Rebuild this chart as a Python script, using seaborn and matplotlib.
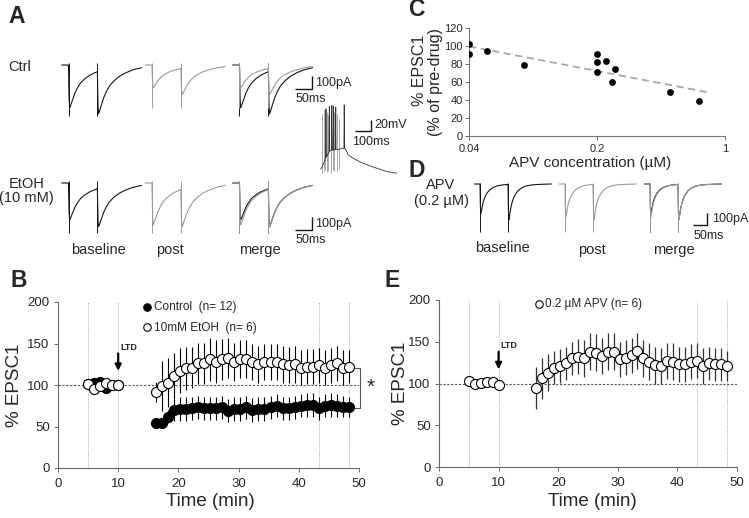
import numpy as np
import pandas as pd
import matplotlib
matplotlib.use("Agg")
import matplotlib.pyplot as plt
import seaborn as sns

# ---------------- data ----------------
# Panel B (% EPSC1 over time)
base_time = [5, 6, 7, 8, 9, 10]
post_time = [16.3, 17.3, 18.3, 19.3, 20.3, 21.3, 22.3, 23.3, 24.3, 25.3, 26.3,
             27.3, 28.3, 29.3, 30.3, 31.3, 32.3, 33.3, 34.3, 35.3, 36.3, 37.3,
             38.3, 39.3, 40.3, 41.3, 42.3, 43.3, 44.3, 45.3, 46.3, 47.3, 48.3]
ctrl_base = [101, 102, 104, 96, 100, 100]
ctrl_post = [54, 54, 62, 70, 71, 71, 72, 73, 72, 72, 72, 73, 69, 71, 71, 73, 70,
             71, 71, 73, 75, 72, 72, 73, 75, 76, 76, 72, 75, 76, 75, 74, 73]
ctrl_err = [6, 6, 8, 13, 14, 14, 14, 14, 14, 14, 14, 14, 14, 14, 14, 14, 14,
            14, 14, 14, 14, 14, 14, 14, 14, 14, 14, 14, 14, 14, 14, 13, 12]
etoh_base = [101, 95, 99, 103, 100, 100]
etoh_post = [92, 99, 103, 111, 117, 120, 121, 126, 126, 131, 128, 131, 133, 128,
             131, 131, 128, 125, 128, 128, 128, 125, 124, 125, 121, 122, 122,
             124, 121, 124, 126, 121, 122]
etoh_err = [12, 30, 30, 28, 27, 26, 25, 25, 25, 26, 26, 25, 24, 23, 23, 23, 22,
            22, 22, 22, 22, 22, 22, 22, 21, 21, 21, 21, 21, 21, 21, 21, 20]
# Panel E
apv_base = [103, 99, 101, 102, 102, 98]
apv_post = [95, 106, 113, 119, 121, 124, 130, 132, 130, 138, 137, 133, 138, 138,
            129, 131, 134, 139, 130, 126, 122, 121, 127, 126, 123, 123, 126, 127,
            121, 124, 123, 123, 121]
apv_err = [25, 24, 22, 20, 20, 20, 20, 21, 22, 22, 22, 22, 22, 22, 21, 21, 21,
           22, 22, 22, 22, 22, 22, 22, 21, 21, 21, 21, 21, 20, 20, 20, 18]
ref_lines = [5, 10, 43.3, 48.3]

# Panel C (dose response)
apv_conc = [0.04, 0.04, 0.05, 0.08, 0.2, 0.2, 0.2, 0.225, 0.24, 0.25, 0.5, 0.72]
apv_resp = [102.6, 91, 94.8, 78.4, 91, 82, 71.4, 83.6, 59.5, 74.7, 48.7, 39]
fit_conc = [0.04, 0.8]
fit_resp = [99.6, 48.7]

# Panel A / D example traces (template EPSC shape)
epsc_t = [0, 1.5, 3, 5, 8, 12, 18, 25, 35, 48, 62, 80, 100, 125, 155, 190, 230]
shape_A = [0, -0.75, -1.0, -0.97, -0.9, -0.8, -0.67, -0.55, -0.42, -0.32, -0.24,
           -0.17, -0.11, -0.065, -0.03, -0.012, 0]
shape_D = [0, -0.8, -1.0, -0.9, -0.75, -0.58, -0.42, -0.3, -0.19, -0.11, -0.06,
           -0.03, -0.015, -0.006, 0, 0, 0]
ctrl_base_peaks = [330, 377]
ctrl_post_peaks = [177, 230]
etoh_base_peaks = [285, 338]
etoh_post_peaks = [323, 338]
apvD_base_peaks = [250, 300]
apvD_post_peaks = [277, 300]

# action potential trace (ms, mV)
ap_t = [0, 14, 31, 33, 35, 52, 54, 56, 67, 69, 71, 77, 79, 81, 92, 94, 96, 110,
        131, 145, 147, 150, 158, 172.5, 204, 256, 329, 412, 475]
ap_v = [-70, -62, -50, 40, -48, -39, 44, -37, -35, 46, -35, -35, 45, -35, -34,
        43, -34, -34, -32, -32, 47, -32, -35, -44, -50, -58, -66, -74, -77]
ap_art_t = [6, 20, 28, 42, 48, 62, 74, 86, 100, 115]
ap_art_lo = [-76, -74, -72, -75, -73, -76, -72, -74, -73, -70]
ap_art_hi = [30, 38, 20, 35, 28, 36, 25, 34, 30, 22]

# ---------------- style ----------------
sns.set_theme(style="ticks")
plt.rcParams["font.family"] = ["Liberation Sans", "DejaVu Sans"]
plt.rcParams["axes.linewidth"] = 0.8

W, H = 749, 518
fig = plt.figure(figsize=(W / 100, H / 100), dpi=100)
fig.patch.set_facecolor("white")


def rect(l, t, r, b):
    return [l / W, 1 - b / H, (r - l) / W, (b - t) / H]


def ftext(x, y, s, **kw):
    kw.setdefault("va", "center")
    kw.setdefault("ha", "left")
    fig.text(x / W, 1 - y / H, s, **kw)


BLACK = "#151515"
GRAY = "#9a9a9a"


def epsc_pair(t, peaks, isi, shape):
    s1 = np.interp(t, epsc_t, shape, left=0, right=0)
    s2 = np.interp(t - isi, epsc_t, shape, left=0, right=0)
    resid = peaks[0] * np.interp(isi + 3, epsc_t, shape)
    a2 = peaks[1] + resid
    return peaks[0] * s1 + a2 * s2


def trace_axes(stim_px, base_px, ppm, ppa, t0=-25, t1=270, i0=-470, i1=40):
    ax = fig.add_axes(rect(stim_px + t0 * ppm, base_px - i1 * ppa,
                           stim_px + t1 * ppm, base_px - i0 * ppa))
    ax.set_xlim(t0, t1)
    ax.set_ylim(i0, i1)
    ax.set_axis_off()
    return ax


def draw_trace(ax, peaks, isi, shape, color, art, tmax):
    t = np.linspace(-20, tmax, 700)
    cur = epsc_pair(t, peaks, isi, shape)
    sns.lineplot(x=t, y=cur, ax=ax, color=color, lw=0.8, estimator=None,
                 sort=False, legend=False)
    ax.vlines([0, isi], -art, 12, color=color, lw=0.7)


# ---------------- Panel A ----------------
ppm_A, ppa_A, isi_A = 0.34, 0.13, 85
rows = [(65, ctrl_base_peaks, ctrl_post_peaks, (390, 330)),
        (183, etoh_base_peaks, etoh_post_peaks, (385, 385))]
for base_px, bp, pp, arts in rows:
    a1 = trace_axes(68.5, base_px, ppm_A, ppa_A)
    draw_trace(a1, bp, isi_A, shape_A, BLACK, arts[0], 215)
    a2 = trace_axes(152, base_px, ppm_A, ppa_A)
    draw_trace(a2, pp, isi_A, shape_A, GRAY, arts[1], 215)
    a3 = trace_axes(239.5, base_px, ppm_A, ppa_A)
    draw_trace(a3, bp, isi_A, shape_A, BLACK, arts[0], 215)
    draw_trace(a3, pp, isi_A, shape_A, GRAY, arts[1], 215)
    # scale bar 50 ms / 100 pA
    yb = -187 if base_px == 65 else -362
    a3.plot([162, 212, 212], [yb, yb, yb + 100], color=BLACK, lw=1.0,
            clip_on=False, solid_capstyle="butt")
    a3.text(223, yb + 50, "100pA", fontsize=9, va="center", ha="left",
            clip_on=False)
    a3.text(166, yb - 75, "50ms", fontsize=9, va="center", ha="left",
            clip_on=False)

ftext(8, 67, "Ctrl", fontsize=10.5)
ftext(26.5, 183.5, "EtOH", fontsize=10.5, ha="center")
ftext(26.5, 198, "(10 mM)", fontsize=10.5, ha="center")
ftext(98, 250, "baseline", fontsize=10.5, ha="center")
ftext(170, 250, "post", fontsize=10.5, ha="center")
ftext(260, 250, "merge", fontsize=10.5, ha="center")

# action potential inset
ppm_ap, ppv_ap = 0.16, 0.55
ax_ap = fig.add_axes(rect(320.7 - 10 * ppm_ap, 169.3 - 125 * ppv_ap,
                          320.7 + 490 * ppm_ap, 169.3 + 15 * ppv_ap))
ax_ap.set_xlim(-10, 490)
ax_ap.set_ylim(-85, 55)
ax_ap.set_axis_off()
ax_ap.vlines(ap_art_t, ap_art_lo, ap_art_hi, color=GRAY, lw=0.6)
sns.lineplot(x=ap_t, y=ap_v, ax=ax_ap, color="#333", lw=0.6, estimator=None,
             sort=False, legend=False)
ax_ap.plot([214, 314, 314], [0, 0, 20], color=BLACK, lw=1.0, clip_on=False,
           solid_capstyle="butt")
ax_ap.text(333, 10.5, "20mV", fontsize=9, va="center", ha="left", clip_on=False)
ax_ap.text(196, -20, "100ms", fontsize=9, va="center", ha="left", clip_on=False)

# ---------------- Panel D ----------------
ppm_D, ppa_D, isi_D = 0.28, 0.12, 100
d1 = trace_axes(480, 184, ppm_D, ppa_D)
draw_trace(d1, apvD_base_peaks, isi_D, shape_D, BLACK, 400, 255)
d2 = trace_axes(565, 184, ppm_D, ppa_D)
draw_trace(d2, apvD_post_peaks, isi_D, shape_D, GRAY, 400, 255)
d3 = trace_axes(650, 184, ppm_D, ppa_D)
draw_trace(d3, apvD_base_peaks, isi_D, shape_D, BLACK, 400, 255)
draw_trace(d3, apvD_post_peaks, isi_D, shape_D, GRAY, 400, 255)
d3.plot([154, 204, 204], [-342, -342, -242], color=BLACK, lw=1.0,
        clip_on=False, solid_capstyle="butt")
d3.text(221, -292, "100pA", fontsize=9, va="center", ha="left", clip_on=False)
d3.text(154, -433, "50ms", fontsize=9, va="center", ha="left", clip_on=False)
ftext(441, 185, "APV", fontsize=10.5, ha="center")
ftext(441.5, 201, "(0.2 µM)", fontsize=10.5, ha="center")
ftext(502, 248, "baseline", fontsize=10.5, ha="center")
ftext(592, 250, "post", fontsize=10.5, ha="center")
ftext(674, 250, "merge", fontsize=10.5, ha="center")

# ---------------- Panel C ----------------
axC = fig.add_axes(rect(469, 28, 725, 136))
axC.plot(fit_conc, fit_resp, color="#a8a8a8", lw=1.3, dashes=(4, 2.5))
sns.scatterplot(x=apv_conc, y=apv_resp, ax=axC, color="black", s=24,
                edgecolor="black", linewidth=0, zorder=3)
axC.set_xscale("log")
axC.set_xlim(0.04, 1)
axC.set_ylim(0, 120)
axC.set_xticks([0.04, 0.2, 1])
axC.set_xticklabels(["0.04", "0.2", "1"])
axC.xaxis.set_minor_locator(matplotlib.ticker.NullLocator())
axC.set_yticks(range(0, 121, 20))
axC.tick_params(axis="both", labelsize=8, length=3, width=0.6, color="#555",
                direction="out")
axC.tick_params(axis="y", pad=1.5)
axC.tick_params(axis="x", pad=2.5)
for sp in ["top", "right"]:
    axC.spines[sp].set_visible(False)
for sp in ["left", "bottom"]:
    axC.spines[sp].set_color("#777")
    axC.spines[sp].set_linewidth(0.8)
ftext(420, 70, "% EPSC1", fontsize=11.5, rotation=90, ha="center")
ftext(435.5, 82, "(% of pre-drug)", fontsize=11.5, rotation=90, ha="center")
ftext(590, 163, "APV concentration (µM)", fontsize=11, ha="center")


# ---------------- Panels B and E ----------------
def time_axes(ax):
    ax.set_xlim(0, 50)
    ax.set_ylim(0, 200)
    ax.set_xticks(range(0, 51, 10))
    ax.set_yticks(range(0, 201, 50))
    for x in ref_lines:
        ax.axvline(x, color="#8a8a8a", lw=0.6, ls=(0, (1, 1.5)), zorder=0)
    ax.axhline(100, color="#555", lw=0.8, ls=(0, (2, 1.5)), zorder=0)
    for sp in ["top", "right"]:
        ax.spines[sp].set_visible(False)
    for sp in ["left", "bottom"]:
        ax.spines[sp].set_color("#666")
    ax.tick_params(axis="both", labelsize=9.5, length=3, width=0.6,
                   color="#555", direction="out")
    ax.tick_params(axis="x", pad=4)
    ax.tick_params(axis="y", pad=3)
    ax.annotate("", xy=(10, 117), xytext=(10, 138),
                arrowprops=dict(arrowstyle="-|>", lw=1.6, color="black",
                                mutation_scale=9, shrinkA=0, shrinkB=0))
    ax.text(10.3, 145, "LTD", fontsize=6.5, fontweight="bold", ha="left",
            va="center")


MS = 52
axB = fig.add_axes(rect(58, 302, 359, 468))
time_axes(axB)
axB.errorbar(post_time, ctrl_post, yerr=ctrl_err, fmt="none", ecolor="black",
             elinewidth=0.8, capsize=0, zorder=2)
axB.errorbar(post_time, etoh_post, yerr=etoh_err, fmt="none", ecolor="black",
             elinewidth=0.8, capsize=0, zorder=2)
sns.scatterplot(x=base_time + post_time, y=ctrl_base + ctrl_post, ax=axB,
                color="black", edgecolor="black", linewidth=0.8, s=MS,
                zorder=3, label="Control  (n= 12)")
sns.scatterplot(x=base_time + post_time, y=etoh_base + etoh_post, ax=axB,
                color="white", edgecolor="black", linewidth=0.8, s=MS,
                zorder=4, label="10mM EtOH  (n= 6)")
axB.legend(loc="upper left", bbox_to_anchor=(0.283, 1.006), frameon=False,
           fontsize=8.5, handlelength=0.7, handletextpad=0.25,
           labelspacing=0.72, borderpad=0, borderaxespad=0, markerscale=0.75)
axB.plot([49.4, 50.1, 50.1, 49.4], [121, 121, 72, 72], color="#555", lw=0.8,
         clip_on=False)
axB.text(51.9, 97, "*", fontsize=15, ha="center", va="center")
axB.set_xlabel("Time (min)", fontsize=13.5)
axB.set_ylabel("% EPSC1", fontsize=13.5)
axB.xaxis.set_label_coords(0.505, -0.151)
axB.yaxis.set_label_coords(-0.117, 0.5)

axE = fig.add_axes(rect(439, 300, 737, 467))
time_axes(axE)
axE.errorbar(post_time, apv_post, yerr=apv_err, fmt="none", ecolor="#333",
             elinewidth=0.9, capsize=0, zorder=2)
sns.scatterplot(x=base_time + post_time, y=apv_base + apv_post, ax=axE,
                color="white", edgecolor="black", linewidth=0.8, s=MS,
                zorder=4, label="0.2 µM APV (n= 6)")
axE.legend(loc="upper left", bbox_to_anchor=(0.322, 1.012), frameon=False,
           fontsize=8.5, handlelength=0.7, handletextpad=0.15, borderpad=0,
           borderaxespad=0, markerscale=0.75)
axE.set_xlabel("Time (min)", fontsize=13.5)
axE.set_ylabel("% EPSC1", fontsize=13.5)
axE.xaxis.set_label_coords(0.515, -0.156)
axE.yaxis.set_label_coords(-0.1, 0.5)

# ---------------- panel letters ----------------
for x, y, s in [(8, 23, "A"), (10, 287, "B"), (408, 16.5, "C"),
                (408, 177, "D"), (385, 287, "E")]:
    ftext(x, y, s, fontsize=16.5, fontweight="bold", va="baseline")

fig.savefig("out.png", dpi=100, facecolor="white")
